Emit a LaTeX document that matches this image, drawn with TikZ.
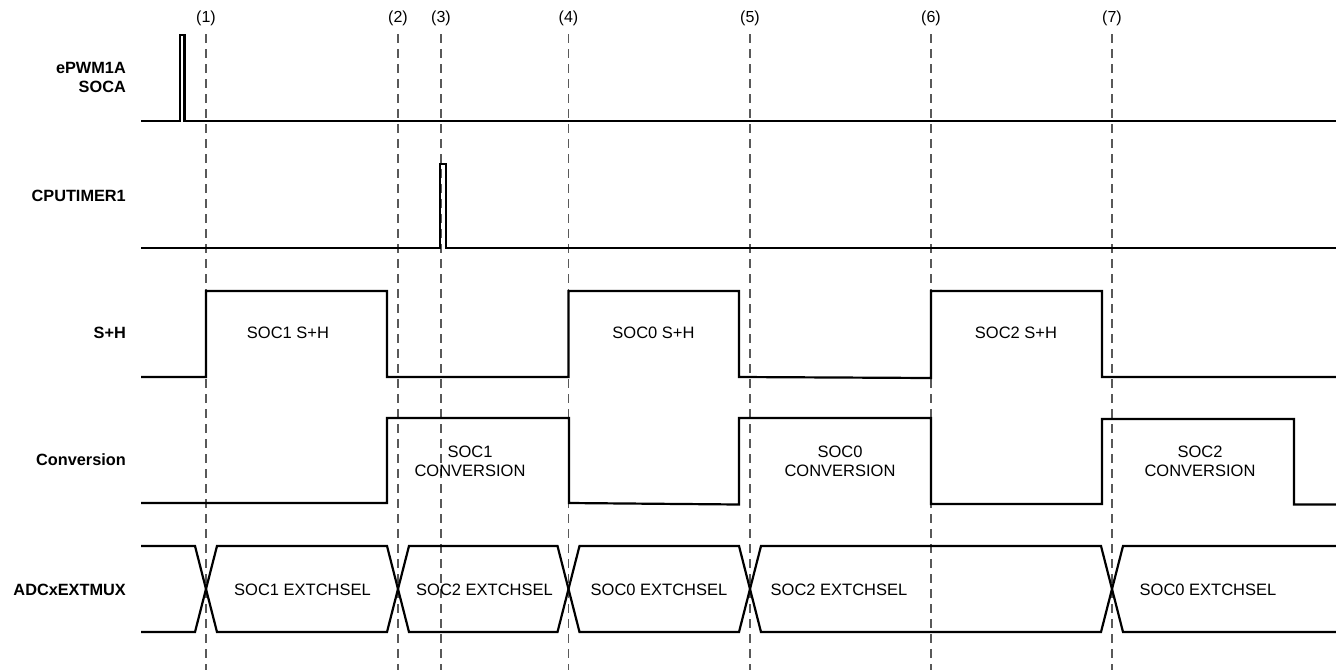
\documentclass[tikz,border=0pt]{standalone}
\usepackage{fontspec}
\setmainfont{Liberation Sans}
\begin{document}
\begin{tikzpicture}[x=1pt,y=-1pt,
  sig/.style={line width=2.2pt,line join=miter,black},
  guide/.style={line width=1.2pt,color=black!65,dash pattern=on 9pt off 6pt},
  lbl/.style={font=\fontsize{16.3}{19}\selectfont\bfseries,anchor=east,align=right,inner sep=0pt},
  txt/.style={font=\fontsize{16.5}{19.5}\selectfont,align=center,inner sep=0pt},
  num/.style={font=\fontsize{16}{19}\selectfont,inner sep=0pt}]
\useasboundingbox (0,0) rectangle (1336,670);
% guide lines and their labels
\foreach \x/\n in {206/1,398/2,441/3,568.5/4,750/5,931/6,1112/7}{
  \coordinate (g\n top) at (\x,34);
  \coordinate (g\n bot) at (\x,670);
  \draw[guide] (g\n top) -- (g\n bot);
  \node[num] (n\n) at (\x,18) {(\n)};
}
% row labels
\node[lbl] (lepwm) at (126,77) {ePWM1A\\SOCA};
\node[lbl] (lcpu) at (126,196) {CPUTIMER1};
\node[lbl] (lsh) at (126,333) {S+H};
\node[lbl] (lconv) at (126,460) {Conversion};
\node[lbl] (lmux) at (126,590) {ADCxEXTMUX};
% ePWM1A SOCA
\draw[sig] (141,121) -- (180,121) -- (180,35) -- (184.5,35) -- (184.5,121) -- (1336,121);
% CPUTIMER1
\draw[sig] (141,248) -- (440,248) -- (440,164) -- (446,164) -- (446,248) -- (1336,248);
% S+H
\draw[sig] (141,377) -- (206,377) -- (206,291) -- (387,291) -- (387,377) -- (568.5,377)
  -- (568.5,291) -- (739,291) -- (739,377) -- (931,378) -- (931,291) -- (1102,291)
  -- (1102,377) -- (1336,377);
% Conversion
\draw[sig] (141,503) -- (387,503) -- (387,418) -- (569,418) -- (569,503) -- (739,504.5)
  -- (739,418) -- (931,418) -- (931,504) -- (1102,504) -- (1102,419) -- (1294,419)
  -- (1294,504.5) -- (1336,504.5);
% ADCxEXTMUX
\draw[sig] (141,546) -- (195,546) -- (217,632) -- (387,632) -- (409,546) -- (557.5,546)
  -- (579.5,632) -- (739,632) -- (761,546) -- (1101,546) -- (1123,632) -- (1336,632);
\draw[sig] (141,632) -- (195,632) -- (217,546) -- (387,546) -- (409,632) -- (557.5,632)
  -- (579.5,546) -- (739,546) -- (761,632) -- (1101,632) -- (1123,546) -- (1336,546);
% texts
\node[txt] (t1) at (288,333) {SOC1 S+H};
\node[txt] (t2) at (653.5,333) {SOC0 S+H};
\node[txt] (t3) at (1016,333) {SOC2 S+H};
\node[txt] (c1) at (470,461.5) {SOC1\\CONVERSION};
\node[txt] (c2) at (840,461.5) {SOC0\\CONVERSION};
\node[txt] (c3) at (1200,461.5) {SOC2\\CONVERSION};
\node[txt] (m1) at (302.5,590) {SOC1 EXTCHSEL};
\node[txt] (m2) at (484.5,590) {SOC2 EXTCHSEL};
\node[txt] (m3) at (659,590) {SOC0 EXTCHSEL};
\node[txt] (m4) at (839,590) {SOC2 EXTCHSEL};
\node[txt] (m5) at (1208,590) {SOC0 EXTCHSEL};
\end{tikzpicture}
\end{document}
